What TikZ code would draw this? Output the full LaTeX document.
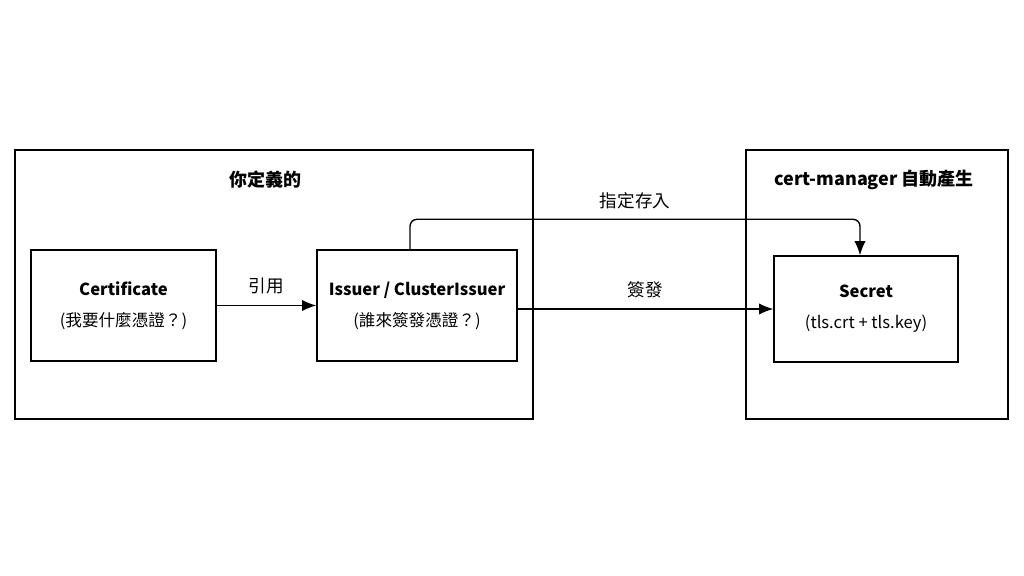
\documentclass[tikz,border=0pt]{standalone}
\usepackage{fontspec}
\setmainfont{Noto Sans CJK TC}
\usetikzlibrary{arrows.meta,positioning}

\begin{document}
\begin{tikzpicture}[x=0.025cm,y=-0.025cm,
  font=\fontsize{11.8}{22}\selectfont,
  group/.style={draw,line width=1pt},
  box/.style={draw,line width=1pt,align=center,minimum height=2.775cm},
  title/.style={font=\fontsize{12.8}{15}\selectfont\bfseries},
  lbl/.style={font=\fontsize{12.5}{15}\selectfont},
  arr/.style={-{Latex[length=10pt,width=8pt]},line width=1pt}]
\useasboundingbox[fill=white] (0,0) rectangle (1024,576);
% groups
\node[group,minimum width=12.95cm,minimum height=6.725cm] (mine) at (274,284.5) {};
\node[group,minimum width=6.55cm,minimum height=6.725cm] (auto) at (877,284.5) {};
\node[title] (mineT) at (265,180) {你定義的};
\node[title] (autoT) at (874,180) {cert-manager 自動產生};
% resources
\node[box,minimum width=4.625cm] (cert) at (123.5,305.5) {\textbf{Certificate}\\(我要什麼憑證？)};
\node[box,minimum width=5cm] (issuer) at (417,305.5) {\textbf{Issuer / ClusterIssuer}\\(誰來簽發憑證？)};
\node[box,minimum width=4.6cm,minimum height=2.65cm] (secret) at (866,309) {\textbf{Secret}\\(tls.crt + tls.key)};
% links
\draw[arr] (cert.east) -- node[lbl,above=4pt] (ref) {引用} (issuer.west);
\draw[arr] (issuer.east |- secret.west) -- node[lbl,above=4pt] (sign) {簽發} (secret.west);
\draw[arr,rounded corners=5pt] ([xshift=-0.175cm]issuer.north) -- ++(0,-30) -| ([xshift=-0.15cm]secret.north);
\node[lbl] (store) at (635,201) {指定存入};
\end{tikzpicture}
\end{document}
